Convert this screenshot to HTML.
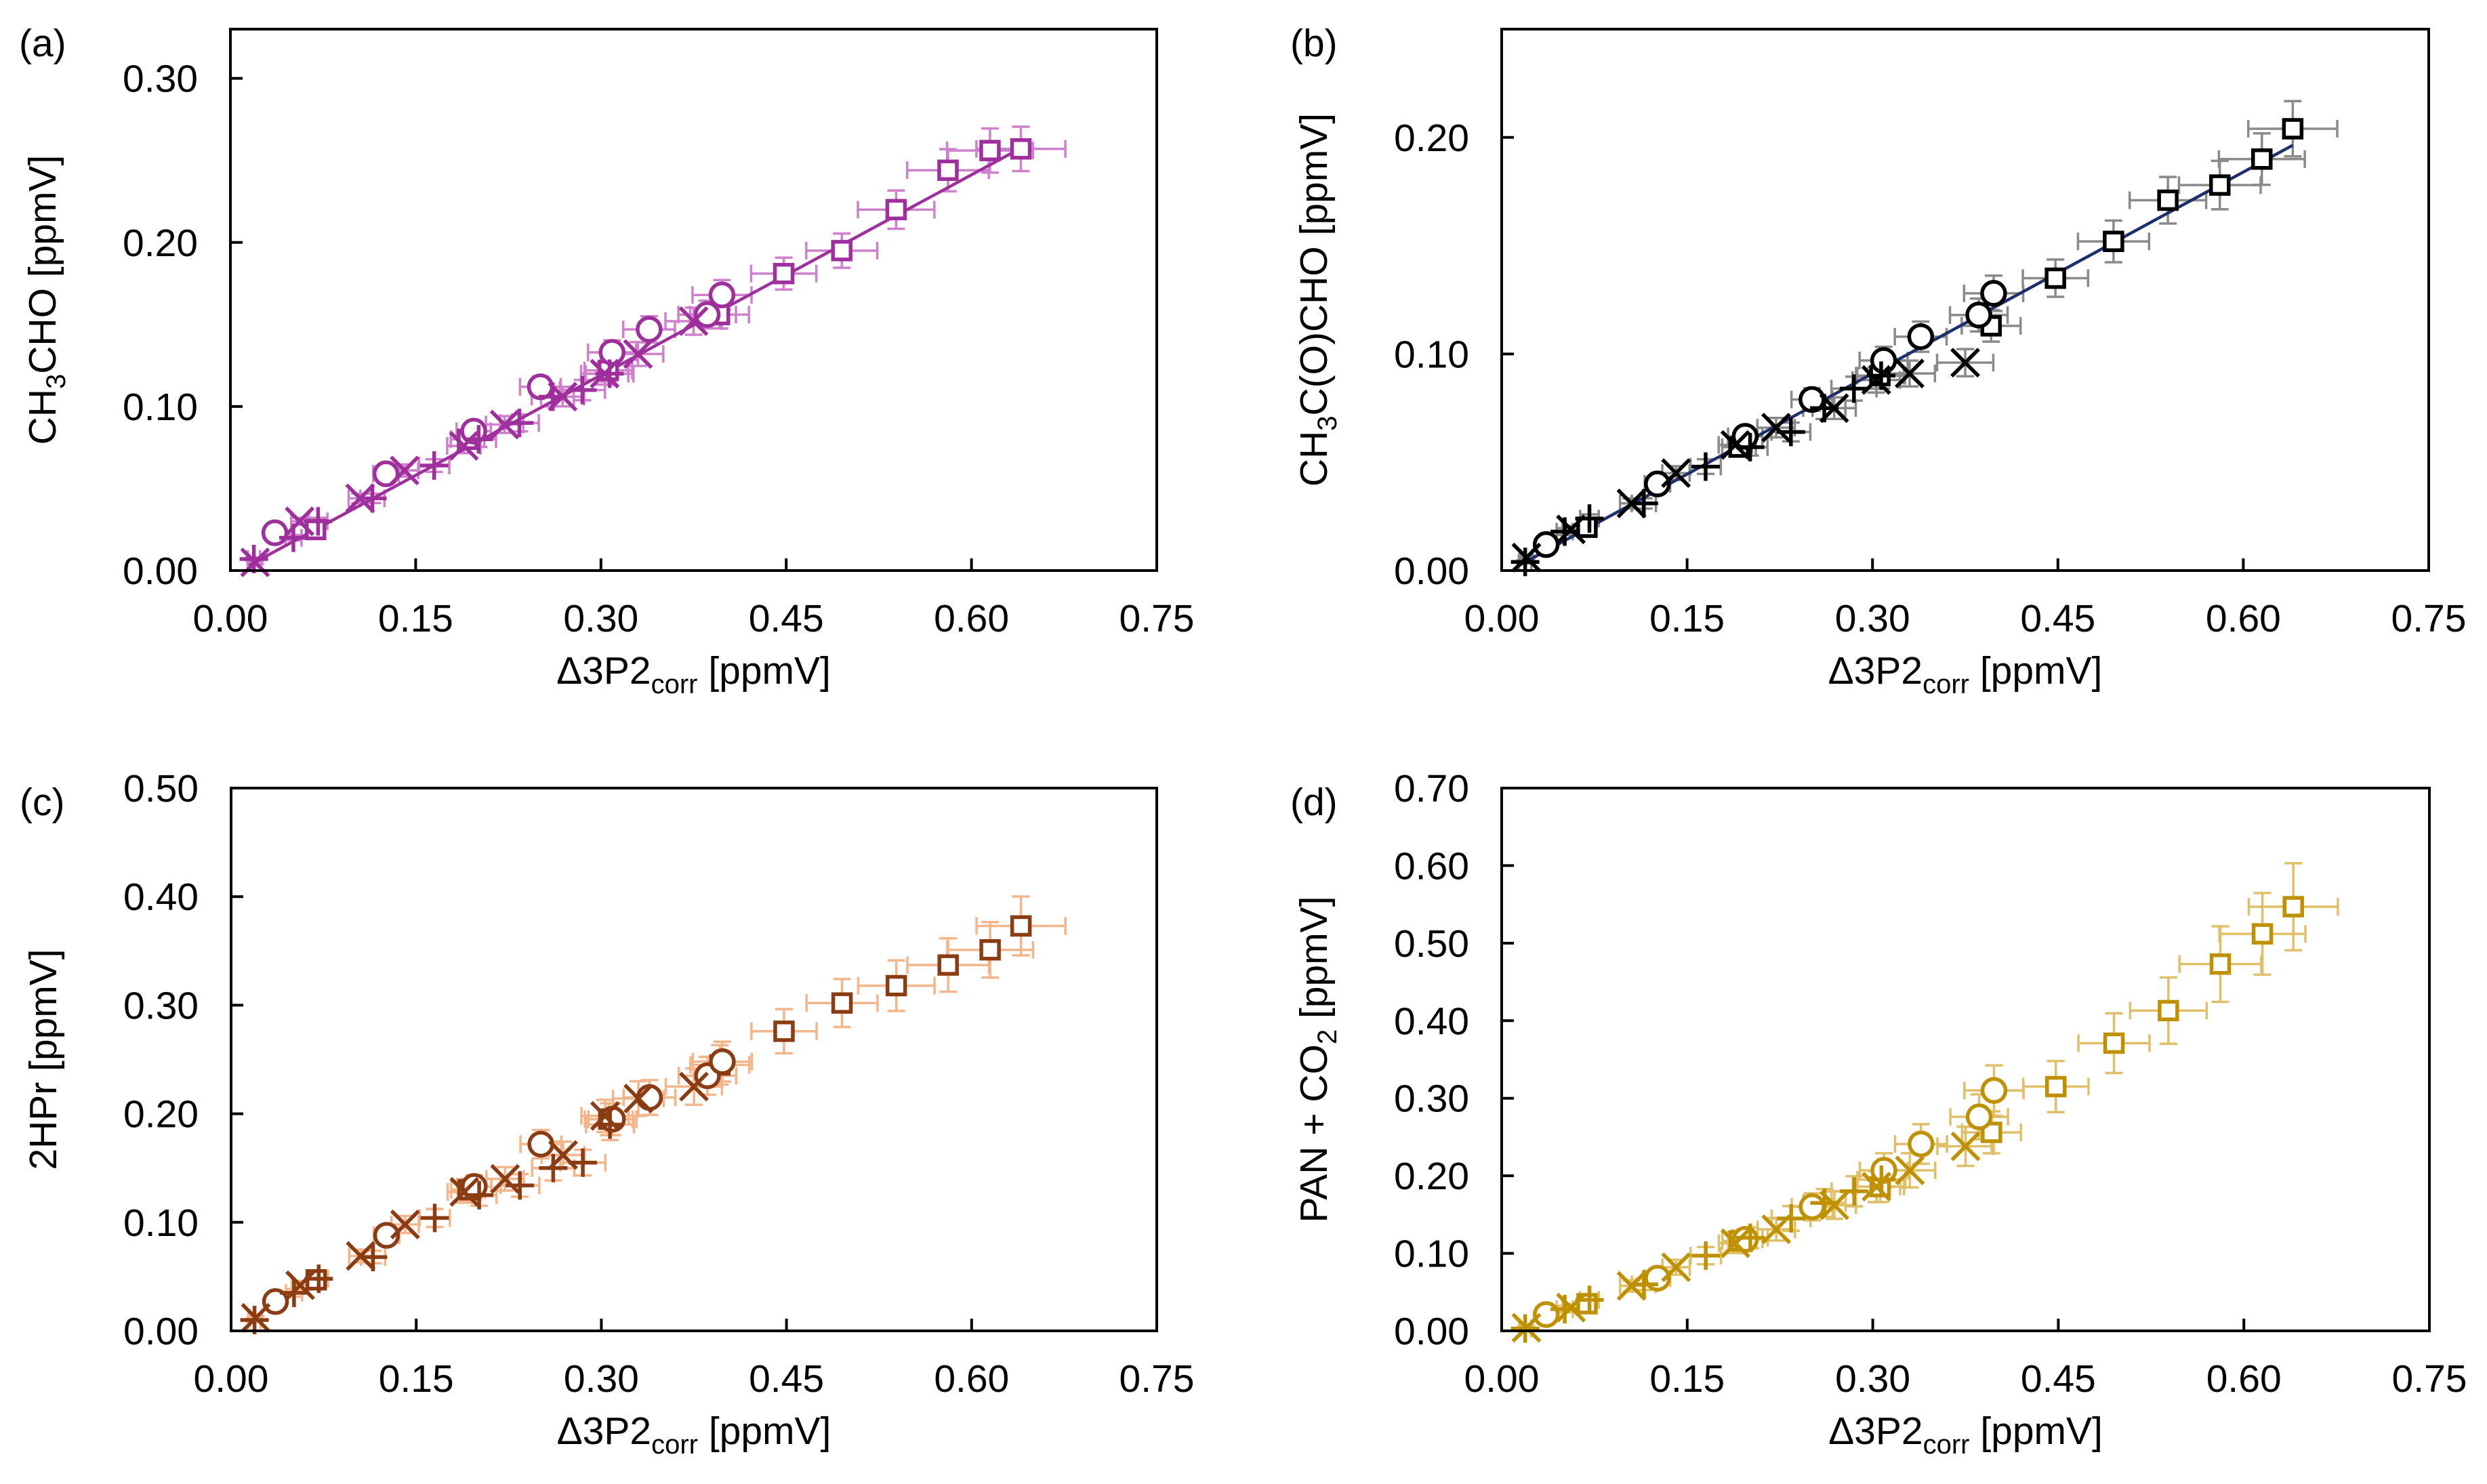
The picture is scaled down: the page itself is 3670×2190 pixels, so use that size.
<!DOCTYPE html>
<html><head><meta charset="utf-8">
<style>
html,body{margin:0;padding:0;background:#fff;}
svg{display:block;font-family:"Liberation Sans",Arial,sans-serif;}
</style></head>
<body>
<svg id="fig" width="3670" height="2190" viewBox="0 0 3670 2190" xmlns="http://www.w3.org/2000/svg">
<rect width="3670" height="2190" fill="#fff"/>
</svg>
<script>
// shared x data (Δ3P2corr, ppmV)
const sqX = [0.069,0.192,0.306,0.396,0.448,0.495,0.539,0.581,0.615,0.640];
const ciX = [0.036,0.126,0.197,0.251,0.309,0.339,0.386,0.398];
const crX = [0.020,0.056,0.105,0.141,0.189,0.222,0.269,0.303,0.330,0.375];
const plX = [0.019,0.051,0.071,0.115,0.165,0.201,0.234,0.261,0.285,0.307];
// panel (a) CH3CHO
const aSq = [0.025,0.080,0.122,0.156,0.181,0.195,0.220,0.244,0.256,0.257];
const aCi = [0.023,0.059,0.085,0.112,0.133,0.147,0.156,0.168];
const aCr = [0.005,0.030,0.044,0.061,0.076,0.089,0.106,0.120,0.132,0.152];
const aPl = [0.007,0.020,0.030,0.044,0.064,0.080,0.090,0.106,0.110,0.120];
const aFit = [-0.003,0.407];
// panel (b) CH3C(O)CHO
const bSq = [0.020,0.057,0.090,0.113,0.135,0.152,0.171,0.178,0.190,0.204];
const bCi = [0.012,0.040,0.062,0.079,0.097,0.108,0.118,0.128];
const bCr = [0.006,0.019,0.031,0.045,0.058,0.066,0.075,0.088,0.091,0.096];
const bPl = [0.004,0.018,0.024,0.031,0.048,0.057,0.064,0.075,0.084,0.090];
const bFit = [-0.002,0.310];
// panel (c) 2HPr
const cSq = [0.047,0.130,0.195,0.245,0.276,0.302,0.318,0.337,0.351,0.373];
const cCi = [0.027,0.088,0.133,0.172,0.195,0.215,0.235,0.248];
const cCr = [0.012,0.042,0.069,0.098,0.128,0.140,0.162,0.198,0.214,0.225];
const cPl = [0.010,0.035,0.048,0.068,0.104,0.125,0.134,0.150,0.155,0.190];
// panel (d) PAN + CO2
const dSq = [0.035,0.116,0.186,0.256,0.315,0.371,0.413,0.473,0.512,0.547];
const dCi = [0.021,0.068,0.118,0.160,0.207,0.241,0.276,0.310];
const dCr = [0.004,0.030,0.058,0.082,0.113,0.131,0.162,0.186,0.207,0.238];
const dPl = [0.003,0.028,0.040,0.060,0.097,0.120,0.145,0.165,0.180,0.195];
// ticks
const xTicks = ["0.00","0.15","0.30","0.45","0.60","0.75"];
const aYTicks = ["0.00","0.10","0.20","0.30"];
const bYTicks = ["0.00","0.10","0.20"];
const cYTicks = ["0.00","0.10","0.20","0.30","0.40","0.50"];
const dYTicks = ["0.00","0.10","0.20","0.30","0.40","0.50","0.60","0.70"];

const NS = "http://www.w3.org/2000/svg";
const svg = document.getElementById('fig');
function mk(tag, attrs, parent){
  const e = document.createElementNS(NS, tag);
  for (const k in attrs) e.setAttribute(k, attrs[k]);
  (parent||svg).appendChild(e);
  return e;
}

const panels = [
  {id:'a', L:340, T:43, W:1367, H:799, ymax:0.33, yt:aYTicks, sq:aSq, ci:aCi, cr:aCr, pl:aPl, fit:aFit,
   mc:'#9e2f9c', ec:'#cf80cc', lc:'#9e2f9c', yerr:0.05, title:['CH','3','CHO [ppmV]']},
  {id:'b', L:2216, T:43, W:1368, H:799, ymax:0.25, yt:bYTicks, sq:bSq, ci:bCi, cr:bCr, pl:bPl, fit:bFit,
   mc:'#000000', ec:'#8a8a8a', lc:'#1f2f6e', yerr:0.06, title:['CH','3','C(O)CHO [ppmV]']},
  {id:'c', L:341, T:1163, W:1366, H:801, ymax:0.50, yt:cYTicks, sq:cSq, ci:cCi, cr:cCr, pl:cPl, fit:null,
   mc:'#8b3c12', ec:'#f5b58a', lc:null, yerr:0.07, title:['2HPr [ppmV]','','']},
  {id:'d', L:2216, T:1163, W:1369, H:801, ymax:0.70, yt:dYTicks, sq:dSq, ci:dCi, cr:dCr, pl:dPl, fit:null,
   mc:'#bf9000', ec:'#dfc068', lc:null, yerr:0.10, title:['PAN + CO','2',' [ppmV]']}
];

panels.forEach(p => {
  const g = mk('g', {});
  
  
  const sx = v => p.L + v / 0.75 * p.W;
  const sy = v => p.T + p.H - v / p.ymax * p.H;
  const B = p.T + p.H;

  const eg = mk('g', {stroke:p.ec, 'stroke-width':3.5, fill:'none'}, g);
  
  
  const sets = [[sqX,p.sq],[ciX,p.ci],[crX,p.cr],[plX,p.pl]];
  sets.forEach(([xs,ys]) => {
    xs.forEach((x,i) => {
      const y = ys[i];
      const dx = 0.05*x + 0.004, dy = p.yerr*y + 0.002*p.ymax;
      const X = sx(x), Y = sy(y), x1 = sx(x-dx), x2 = sx(x+dx), y1 = sy(y-dy), y2 = sy(y+dy);
      const c = 13;
      mk('path', {d:`M${x1} ${Y}H${x2}M${x1} ${Y-c}V${Y+c}M${x2} ${Y-c}V${Y+c}M${X} ${y1}V${y2}M${X-c} ${y1}H${X+c}M${X-c} ${y2}H${X+c}`}, eg);
    });
  });

  if (p.fit) {
    const fl = mk('line', {x1:sx(0.015), y1:sy(p.fit[0]+p.fit[1]*0.015), x2:sx(0.64), y2:sy(p.fit[0]+p.fit[1]*0.64), stroke:p.lc, 'stroke-width':4.5}, g);
    
    
  }

  const mg = mk('g', {stroke:p.mc, 'stroke-width':5.5, fill:'none'}, g);
  
  
  sqX.forEach((x,i) => {
    const r = mk('rect', {x:sx(x)-13, y:sy(p.sq[i])-13, width:26, height:26, fill:'#fff'}, mg);
    
    
  });
  ciX.forEach((x,i) => {
    const c = mk('circle', {cx:sx(x), cy:sy(p.ci[i]), r:17, fill:'#fff'}, mg);
    
    
  });
  crX.forEach((x,i) => {
    const X = sx(x), Y = sy(p.cr[i]), s = 20;
    const c = mk('path', {d:`M${X-s} ${Y-s}L${X+s} ${Y+s}M${X-s} ${Y+s}L${X+s} ${Y-s}`}, mg);
    
    
  });
  plX.forEach((x,i) => {
    const X = sx(x), Y = sy(p.pl[i]), s = 21;
    const c = mk('path', {d:`M${X-s} ${Y}H${X+s}M${X} ${Y-s}V${Y+s}`}, mg);
    
    
  });

  const box = mk('rect', {x:p.L, y:p.T, width:p.W, height:p.H, fill:'none', stroke:'#000', 'stroke-width':4}, g);
  
  

  xTicks.forEach(t => {
    const v = parseFloat(t), X = sx(v);
    mk('line', {x1:X, y1:B, x2:X, y2:B-18, stroke:'#000', 'stroke-width':4}, g);
    const tx = mk('text', {x:X, y:B+90, 'font-size':57, 'text-anchor':'middle', fill:'#000'}, g);
    tx.textContent = t;
    
    
  });
  p.yt.forEach(t => {
    const v = parseFloat(t), Y = sy(v);
    mk('line', {x1:p.L, y1:Y, x2:p.L+18, y2:Y, stroke:'#000', 'stroke-width':4}, g);
    const tx = mk('text', {x:p.L-48, y:Y+20, 'font-size':57, 'text-anchor':'end', fill:'#000'}, g);
    tx.textContent = t;
    
    
  });

  const xt = mk('text', {x:p.L + p.W/2, y:B+167, 'font-size':57, 'text-anchor':'middle', fill:'#000'}, g);
  
  
  xt.innerHTML = 'Δ3P2<tspan font-size="40" dy="14">corr</tspan><tspan dy="-14"> [ppmV]</tspan>';

  const cy = p.T + p.H/2, cx = p.L - 258;
  const yt = mk('text', {x:0, y:0, 'font-size':57, 'text-anchor':'middle', fill:'#000', transform:`translate(${cx},${cy}) rotate(-90)`}, g);
  
  
  if (p.title[1]) {
    yt.innerHTML = `${p.title[0]}<tspan font-size="40" dy="14">${p.title[1]}</tspan><tspan dy="-14">${p.title[2]}</tspan>`;
  } else {
    yt.textContent = p.title[0];
  }

  const pl = mk('text', {x:p.L-312, y:p.T+40, 'font-size':57, fill:'#000'}, g);
  pl.textContent = '(' + p.id + ')';
  
  
});
</script>
</body></html>
